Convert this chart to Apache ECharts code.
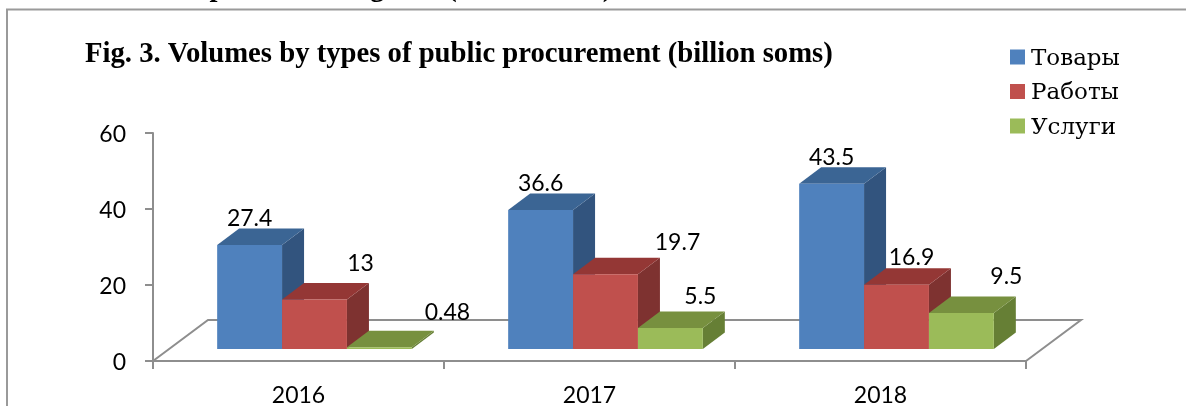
<!DOCTYPE html>
<html>
<head>
<meta charset="utf-8">
<style>html,body{margin:0;padding:0;background:#fff}#chart{width:1186px;height:406px}</style>
<script src="https://cdn.jsdelivr.net/npm/echarts@6/dist/echarts.min.js"></script>
</head>
<body>
<div id="chart"></div>
<script>
// Public procurement volumes by type, billion soms
const years = ['2016', '2017', '2018'];
const goods = [27.4, 36.6, 43.5];
const works = [13, 19.7, 16.9];
const services = [0.48, 5.5, 9.5];
const yTicks = [0, 20, 40, 60];

// Hand placement of the value labels, relative to the centre of each bar top
const goodsLabelShift = [[0, -26], [0, -26], [0, -26]];
const worksLabelShift = [[46, -36], [72, -32], [15, -27]];
const servicesLabelShift = [[68, -35], [30, -32], [45, -36]];

const LABEL_FONT = 'Lato';
const SERIF = '"Liberation Serif"';
const BAR_SHARE = 0.223;      // bar width as a share of the category band
const GROUP_SHIFT = 16;       // bars sit right of the band centre
const FLOOR_LIFT = 12;        // bar bases stand on the floor, above the axis line
const DEPTH_X = 22, DEPTH_Y = 16.5;
const FLOOR_X = 55, FLOOR_Y = 41;

function box(index, shifts, faces) {
  return function (params, api) {
    const cat = api.value(0), val = api.value(1);
    const top = api.coord([cat, val]);
    const base = api.coord([cat, 0]);
    const w = api.size([1, 0])[0] * BAR_SHARE;
    const x0 = top[0] + GROUP_SHIFT + (index - 1.5) * w;
    const x1 = x0 + w;
    const yT = top[1] - FLOOR_LIFT, yB = base[1] - FLOOR_LIFT;
    const shift = shifts[params.dataIndex];
    return {
      type: 'group',
      children: [
        { type: 'polygon', shape: { points: [[x1, yT], [x1 + DEPTH_X, yT - DEPTH_Y], [x1 + DEPTH_X, yB - DEPTH_Y], [x1, yB]] }, style: { fill: faces.side } },
        { type: 'polygon', shape: { points: [[x0, yT], [x0 + DEPTH_X, yT - DEPTH_Y], [x1 + DEPTH_X, yT - DEPTH_Y], [x1, yT]] }, style: { fill: faces.top } },
        { type: 'rect', shape: { x: x0, y: yT, width: w, height: yB - yT }, style: { fill: faces.front } },
        { type: 'text', style: { x: (x0 + x1) / 2 + shift[0], y: yT + shift[1], text: String(val), fill: '#000', font: '23px ' + LABEL_FONT, align: 'center', verticalAlign: 'middle' } }
      ]
    };
  };
}

// Floor outline: runs from the axis ends back into the depth of the plot
function floor(params, api) {
  const band = api.size([1, 0])[0];
  const first = api.coord([0, 0]);
  const last = api.coord([years.length - 1, 0]);
  const ax = first[0] - band / 2, bx = last[0] + band / 2, y = first[1];
  return {
    type: 'polyline',
    shape: { points: [[ax, y], [ax + FLOOR_X, y - FLOOR_Y], [bx + FLOOR_X, y - FLOOR_Y], [bx, y]] },
    style: { stroke: '#8e8e8e', lineWidth: 2, fill: null }
  };
}

const toData = (values) => values.map((v, i) => [i, v]);
const chart = echarts.init(document.getElementById('chart'), null, { renderer: 'canvas' });

chart.setOption({
  animation: false,
  backgroundColor: '#fff',
  grid: { left: 153, right: 160, top: 133, bottom: 45, outerBoundsMode: 'none' },
  title: {
    text: 'Fig. 3. Volumes by types of public procurement (billion soms)',
    left: 80, top: 35,
    textStyle: { fontFamily: SERIF, fontWeight: 'bold', fontSize: 28.7, color: '#000' }
  },
  legend: {
    orient: 'vertical', left: 1010, top: 47.5, padding: 0, itemGap: 11.5,
    itemWidth: 15, itemHeight: 15, icon: 'rect', selectedMode: false,
    data: ['Товары', 'Работы', 'Услуги'],
    formatter: '{t|{name}}',
    textStyle: {
      color: '#000',
      rich: { t: { fontFamily: '"DejaVu Serif"', fontSize: 23, color: '#000', padding: [4, 0, 0, 1] } }
    }
  },
  xAxis: {
    type: 'category', data: years, boundaryGap: true,
    axisLine: { lineStyle: { color: '#8e8e8e', width: 2 } },
    axisTick: { show: true, alignWithLabel: false, length: 8, lineStyle: { color: '#8e8e8e', width: 2 } },
    axisLabel: { fontFamily: LABEL_FONT, fontSize: 23, color: '#000', margin: 23 }
  },
  yAxis: {
    type: 'value', min: 0, max: 60, interval: yTicks[1] - yTicks[0],
    splitLine: { show: false },
    axisLine: { show: true, lineStyle: { color: '#8e8e8e', width: 2 } },
    axisTick: { show: true, length: 8, lineStyle: { color: '#8e8e8e', width: 2 } },
    axisLabel: {
      margin: 27, formatter: '{v|{value}}',
      rich: { v: { fontFamily: LABEL_FONT, fontSize: 23, color: '#000', padding: [4, 0, 0, 0] } }
    }
  },
  graphic: [
    { type: 'polyline', silent: true, shape: { points: [[7, 406], [7, 9.5], [1186, 9.5]] }, style: { stroke: '#9a9a9a', lineWidth: 2, fill: null } },
    { type: 'text', silent: true, x: -25, y: -11, style: { text: 'Table 2. Volume of purchases of goods (billion soms)', fill: '#000', font: 'bold 28.7px ' + SERIF, align: 'left', verticalAlign: 'middle' } }
  ],
  series: [
    { type: 'custom', name: 'floor', silent: true, clip: false, z: 1, renderItem: floor, data: [[0, 0]], encode: { x: 0, y: 1 } },
    { type: 'custom', name: 'Товары', clip: false, z: 2, itemStyle: { color: '#4f81bd' }, encode: { x: 0, y: 1 }, data: toData(goods),
      renderItem: box(0, goodsLabelShift, { front: '#4f81bd', top: '#3b6594', side: '#32547e' }) },
    { type: 'custom', name: 'Работы', clip: false, z: 3, itemStyle: { color: '#c0504d' }, encode: { x: 0, y: 1 }, data: toData(works),
      renderItem: box(1, worksLabelShift, { front: '#c0504d', top: '#943735', side: '#7e3230' }) },
    { type: 'custom', name: 'Услуги', clip: false, z: 4, itemStyle: { color: '#9bbb59' }, encode: { x: 0, y: 1 }, data: toData(services),
      renderItem: box(2, servicesLabelShift, { front: '#9bbb59', top: '#77903f', side: '#667f35' }) }
  ]
});
</script>
</body>
</html>
